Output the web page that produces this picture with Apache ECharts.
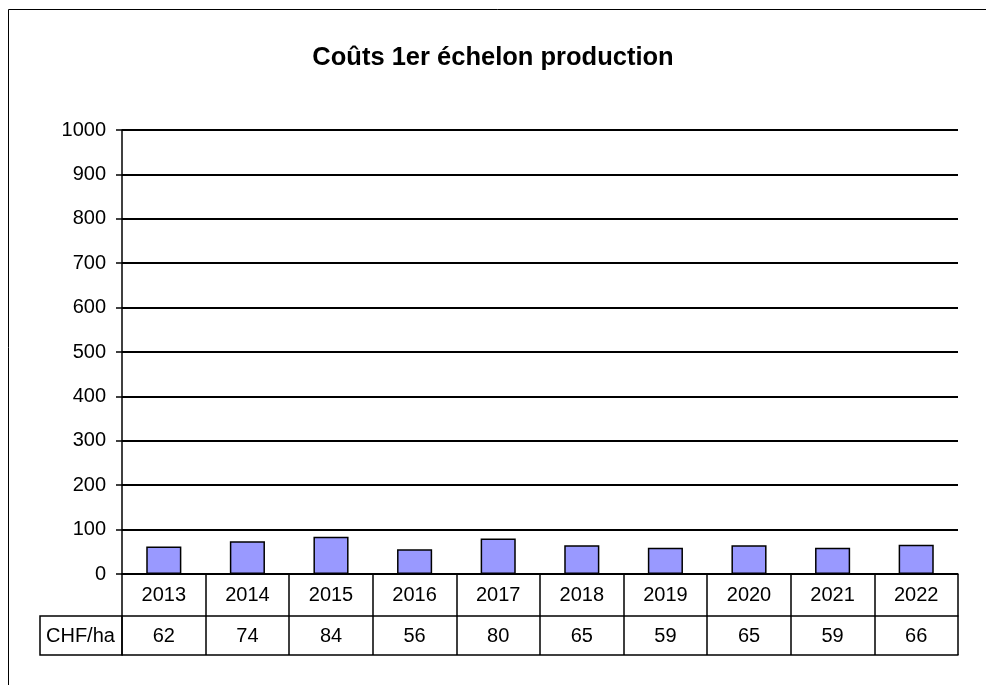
<!DOCTYPE html>
<html>
<head>
<meta charset="utf-8">
<script src="https://cdn.jsdelivr.net/npm/echarts@6/dist/echarts.min.js"></script>
<style>html,body{margin:0;padding:0;background:#fff}#c{width:986px;height:685px}</style>
</head>
<body>
<div id="c"></div>
<script>
const titleText = 'Coûts 1er échelon production';
const years = ['2013','2014','2015','2016','2017','2018','2019','2020','2021','2022'];
const values = [62, 74, 84, 56, 80, 65, 59, 65, 59, 66];
const rowLabel = 'CHF/ha';

const FONT = '"Liberation Sans", Arial, sans-serif';
const chart = echarts.init(document.getElementById('c'), null, {renderer: 'canvas'});
const tableLine = {show: true, lineStyle: {color: '#000', width: 1.5}};
chart.setOption({
  animation: false,
  backgroundColor: '#fff',
  title: {
    text: titleText, left: 'center', top: 40,
    textStyle: {fontFamily: FONT, fontSize: 25.5, fontWeight: 'bold', color: '#000'}
  },
  grid: {left: 122, right: 28, top: 130, bottom: 111, containLabel: false},
  xAxis: [
    {
      type: 'category', data: years, position: 'bottom',
      axisLine: tableLine,
      axisTick: {show: true, alignWithLabel: false, inside: false, length: 42, lineStyle: {color: '#000', width: 1.5}},
      axisLabel: {margin: 11, fontFamily: FONT, fontSize: 20, color: '#000'}
    },
    {
      type: 'category', data: values.map(String), position: 'bottom', offset: 42,
      axisLine: tableLine,
      axisTick: {show: true, length: 39, lineStyle: {color: '#000', width: 1.5}},
      axisLabel: {margin: 10, fontFamily: FONT, fontSize: 20, color: '#000'}
    },
    {
      type: 'category', data: years, position: 'bottom', offset: 81,
      axisLine: tableLine, axisTick: {show: false}, axisLabel: {show: false}
    }
  ],
  yAxis: {
    type: 'value', min: 0, max: 1000, interval: 100,
    axisLine: {show: true, lineStyle: {color: '#000', width: 1.5}},
    axisTick: {show: true, length: 6, lineStyle: {color: '#000', width: 1.5}},
    axisLabel: {margin: 16, fontFamily: FONT, fontSize: 20, color: '#000', formatter: v => String(v)},
    splitLine: {show: true, lineStyle: {color: '#000', width: 2}}
  },
  series: [{
    type: 'bar', data: values, xAxisIndex: 0, barWidth: '42%',
    itemStyle: {color: '#9999FF', borderColor: '#000', borderWidth: 1.5}
  }],
  graphic: [
    {type: 'rect', shape: {x: 8.5, y: 9.5, width: 1100, height: 1000}, style: {fill: 'none', stroke: '#000', lineWidth: 1}, silent: true},
    {type: 'rect', shape: {x: 40, y: 616, width: 82, height: 39}, style: {fill: 'none', stroke: '#000', lineWidth: 1.5}, silent: true},
    {type: 'text', x: 46, y: 636, style: {text: rowLabel, font: '20px ' + FONT, fill: '#000', textVerticalAlign: 'middle', verticalAlign: 'middle'}, silent: true}
  ]
});
</script>
</body>
</html>
